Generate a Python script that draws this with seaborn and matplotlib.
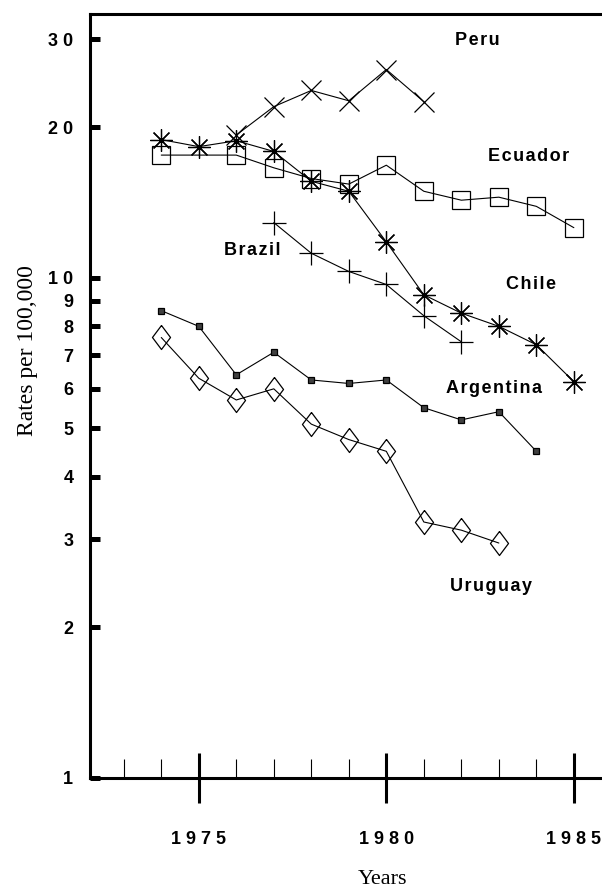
import matplotlib
matplotlib.use("Agg")
import matplotlib.pyplot as plt
import seaborn as sns

# Rates per 100,000 by country and year
peru_years = [1976, 1977, 1978, 1979, 1980, 1981]
peru_rates = [19.3, 22.0, 23.7, 22.6, 26.1, 22.5]

ecuador_years = [1974, 1976, 1977, 1978, 1979, 1980, 1981, 1982, 1983, 1984, 1985]
ecuador_rates = [17.6, 17.6, 16.6, 15.8, 15.4, 16.8, 14.9, 14.3, 14.5, 13.9, 12.6]

chile_years = [1974, 1975, 1976, 1977, 1978, 1979, 1980, 1981, 1982, 1983, 1984, 1985]
chile_rates = [18.9, 18.3, 18.8, 17.9, 15.6, 14.9, 11.8, 9.25, 8.5, 8.0, 7.35, 6.2]

brazil_years = [1977, 1978, 1979, 1980, 1981, 1982]
brazil_rates = [12.9, 11.2, 10.3, 9.7, 8.4, 7.45]

argentina_years = [1974, 1975, 1976, 1977, 1978, 1979, 1980, 1981, 1982, 1983, 1984]
argentina_rates = [8.6, 8.0, 6.4, 7.1, 6.25, 6.15, 6.25, 5.5, 5.2, 5.4, 4.5]

uruguay_years = [1974, 1975, 1976, 1977, 1978, 1979, 1980, 1981, 1982, 1983]
uruguay_rates = [7.6, 6.3, 5.7, 6.0, 5.1, 4.75, 4.5, 3.25, 3.13, 2.95]

y_ticks = [1, 2, 3, 4, 5, 6, 7, 8, 9, 10, 20, 30]
y_tick_labels = ["1", "2", "3", "4", "5", "6", "7", "8", "9", "1 0", "2 0", "3 0"]
x_major = [1975, 1980, 1985]
x_major_labels = ["1 9 7 5", "1 9 8 0", "1 9 8 5"]
x_minor = [1973, 1974, 1976, 1977, 1978, 1979, 1981, 1982, 1983, 1984]

sns.set_style("ticks")
plt.rcParams["font.family"] = ["Liberation Sans", "DejaVu Sans"]
plt.rcParams.update({
    "text.color": "black",
    "axes.labelcolor": "black",
    "axes.edgecolor": "black",
    "xtick.color": "black",
    "ytick.color": "black",
})

fig = plt.figure(figsize=(6.02, 8.92), dpi=100)
ax = fig.add_axes([90 / 602, (892 - 778) / 892, 512 / 602, 764 / 892])

diamond = [(0, 1.33), (1, 0), (0, -1.33), (-1, 0), (0, 1.33)]
asterisk = (8, 2, 0)

series = [
    (peru_years, peru_rates, "x", 14, "none"),
    (ecuador_years, ecuador_rates, "s", 13.5, "none"),
    (chile_years, chile_rates, asterisk, 16, "none"),
    (brazil_years, brazil_rates, "+", 17, "none"),
    (argentina_years, argentina_rates, "s", 4.8, "0.25"),
    (uruguay_years, uruguay_rates, diamond, 17.3, "none"),
]

for yrs, rates, mk, ms, fc in series:
    sns.lineplot(x=yrs, y=rates, ax=ax, color="black", linewidth=0.8,
                 marker=mk, markersize=ms, markerfacecolor=fc,
                 markeredgecolor="black", markeredgewidth=0.9,
                 legend=False)

ax.set_yscale("log")
ax.set_xlim(1972.1, 1985.75)
ax.set_ylim(1, 33.7)

ax.set_yticks(y_ticks)
ax.set_yticklabels(y_tick_labels, fontweight="bold", fontsize=13)
ax.yaxis.set_minor_locator(matplotlib.ticker.NullLocator())
ax.tick_params(axis="y", which="major", direction="in", length=7, width=3.6,
               pad=12, left=True)

ax.set_xticks(x_major)
ax.set_xticklabels(x_major_labels, fontweight="bold", fontsize=13)
ax.set_xticks(x_minor, minor=True)
ax.tick_params(axis="x", which="major", direction="inout", length=36,
               width=2.2, pad=20)
ax.tick_params(axis="x", which="minor", direction="in", length=14,
               width=0.8)

for side in ["left", "bottom", "top"]:
    ax.spines[side].set_linewidth(2.2)
    ax.spines[side].set_color("black")
ax.spines["right"].set_visible(False)

ax.set_xlabel("Years", family="Liberation Serif", fontsize=16,
              va="center")
ax.xaxis.set_label_coords(0.572, -0.1335)
ax.set_ylabel("Rates per 100,000", family="Liberation Serif", fontsize=17)
ax.yaxis.set_label_coords(-0.102, 0.56)

hs = "\u200a"
labels = [
    ("Peru", 1982.42, 29.8),
    ("Ecuador", 1983.80, 17.46),
    ("Chile", 1983.86, 9.68),
    ("Brazil", 1976.42, 11.32),
    ("Argentina", 1982.87, 6.0),
    ("Uruguay", 1982.79, 2.41),
]
for name, x, y in labels:
    ax.text(x, y, hs.join(name), ha="center", va="center",
            fontweight="bold", fontsize=13, color="black")

fig.savefig("out.png", dpi=100)
